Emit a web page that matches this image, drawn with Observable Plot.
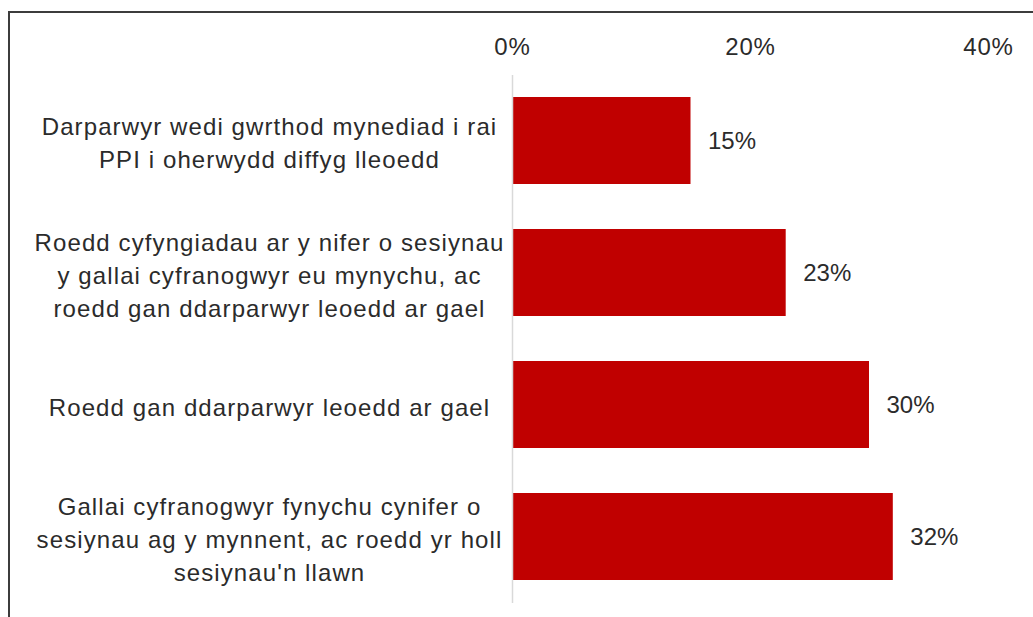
<!DOCTYPE html>
<html>
<head>
<meta charset="utf-8">
<script src="https://cdn.jsdelivr.net/npm/d3@7"></script>
<script src="https://cdn.jsdelivr.net/npm/@observablehq/plot@0.6"></script>
<style>
  html, body { margin: 0; padding: 0; background: #fff; overflow: hidden; }
  #wrap { position: relative; width: 1033px; height: 617px; }
  #frame { position: absolute; left: 8px; top: 11px; width: 1100px; height: 700px;
           border-left: 2px solid #3c3c3c; border-top: 2px solid #3c3c3c; pointer-events: none; }
  svg { display: block; }
  g[aria-label="y-axis tick label"] text { letter-spacing: 1.1px; }
  g[aria-label="x-axis tick label"] text { letter-spacing: 0.8px; }
</style>
</head>
<body>
<div id="wrap"><div id="frame"></div></div>
<script>
const categories = [
  "Darparwyr wedi gwrthod mynediad i rai\nPPI i oherwydd diffyg lleoedd",
  "Roedd cyfyngiadau ar y nifer o sesiynau\ny gallai cyfranogwyr eu mynychu, ac\nroedd gan ddarparwyr leoedd ar gael",
  "Roedd gan ddarparwyr leoedd ar gael",
  "Gallai cyfranogwyr fynychu cynifer o\nsesiynau ag y mynnent, ac roedd yr holl\nsesiynau'n llawn"
];
const values = [15, 23, 30, 32];
const xTicks = [0, 20, 40];

const data = categories.map((c, i) => ({ category: c, value: values[i] }));

const chart = Plot.plot({
  width: 1033,
  height: 617,
  marginLeft: 512,
  marginRight: 45,
  marginTop: 75,
  marginBottom: 14,
  style: { fontFamily: "'Liberation Sans', Arial, sans-serif", fontSize: "24px", color: "#2b2b2b", background: "transparent" },
  x: { domain: [0, 40] },
  y: { domain: categories, paddingInner: 0.34, paddingOuter: 0.17 },
  marks: [
    Plot.barX(data, { x: "value", y: "category", fill: "#c00000" }),
    Plot.ruleX([0], { stroke: "#d9d9d9", strokeWidth: 1.5 }),
    Plot.text(data, { x: "value", y: "category", text: d => d.value + "%", dx: 17, textAnchor: "start", fontSize: 24, fill: "#2b2b2b" }),
    Plot.axisX(xTicks, { anchor: "top", tickSize: 0, tickPadding: 21, tickFormat: d => d + "%", fontSize: 24, fill: "#2b2b2b", label: null }),
    Plot.axisY({ anchor: "left", tickSize: 0, tickPadding: 243, textAnchor: "middle", lineHeight: 1.375, fontSize: 24, fill: "#2b2b2b", label: null })
  ]
});
document.getElementById("wrap").prepend(chart);
</script>
</body>
</html>
